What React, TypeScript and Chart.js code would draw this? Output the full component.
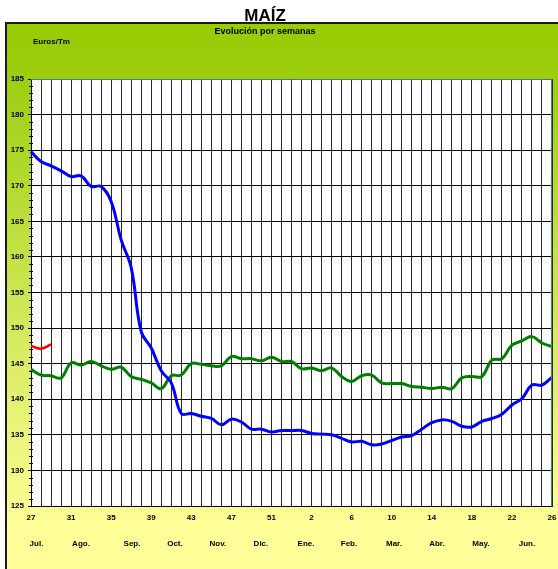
import { useEffect, useRef } from 'react';
import { Chart, registerables } from 'chart.js';

Chart.register(...registerables);

const weekLabels = [
  '27', '28', '29', '30', '31', '32', '33', '34', '35', '36', '37', '38', '39', '40', '41', '42', '43',
  '44', '45', '46', '47', '48', '49', '50', '51', '52', '53', '1', '2', '3', '4', '5', '6', '7', '8', '9',
  '10', '11', '12', '13', '14', '15', '16', '17', '18', '19', '20', '21', '22', '23', '24', '25', '26',
];

const blueSeries = [
  174.8, 173.4, 172.8, 172.1, 171.3, 171.4, 169.9, 169.9, 167.8, 162.4, 158.5, 149.5, 147.2, 144.0,
  142.3, 138.0, 138.0, 137.6, 137.3, 136.4, 137.2, 136.8, 135.8, 135.8, 135.4, 135.6, 135.6, 135.6,
  135.2, 135.1, 135.0, 134.5, 134.0, 134.1, 133.6, 133.7, 134.2, 134.7, 134.9, 135.8, 136.7, 137.1,
  136.9, 136.2, 136.1, 136.9, 137.3, 137.9, 139.2, 140.1, 142.0, 142.0, 143.1,
];

const greenSeries = [
  144.2, 143.4, 143.3, 143.0, 145.1, 144.8, 145.3, 144.7, 144.2, 144.5, 143.2, 142.8, 142.3, 141.5,
  143.3, 143.4, 145.0, 144.9, 144.7, 144.7, 146.0, 145.7, 145.7, 145.4, 145.9, 145.3, 145.3, 144.3,
  144.4, 144.0, 144.4, 143.2, 142.5, 143.3, 143.4, 142.3, 142.2, 142.2, 141.8, 141.7, 141.5, 141.7,
  141.5, 143.0, 143.2, 143.2, 145.5, 145.7, 147.6, 148.2, 148.8, 147.9, 147.4,
];

const redSeries = [147.5, 147.1, 147.7];

const yMin = 125;
const yMax = 185;
const yStep = 5;
const labelEvery = 4;

const monthLabels = ['Jul.', 'Ago.', 'Sep.', 'Oct.', 'Nov.', 'Dic.', 'Ene.', 'Feb.', 'Mar.', 'Abr.', 'May.', 'Jun.'];
const monthCenters = [0.55, 4.99, 10.08, 14.37, 18.66, 22.95, 27.45, 31.74, 36.23, 40.52, 44.91, 49.5];

const mainTitle = 'MAÍZ';
const subTitle = 'Evolución por semanas';
const unitLabel = 'Euros/Tm';

const FONT = '"Liberation Sans", Arial, Helvetica, sans-serif';

const decorPlugin = {
  id: 'decor',
  beforeDraw(chart: any) {
    const { ctx, width, height, chartArea } = chart;
    ctx.save();
    ctx.fillStyle = '#ffffff';
    ctx.fillRect(0, 0, width, height);
    const g = ctx.createLinearGradient(0, 22, 0, 530);
    g.addColorStop(0, '#99CC00');
    g.addColorStop(0.08, '#9ACD0C');
    g.addColorStop(1, '#FFFF99');
    ctx.fillStyle = g;
    ctx.fillRect(5, 22, width - 5, height - 22);
    ctx.strokeStyle = '#1a1a1a';
    ctx.lineWidth = 2;
    ctx.beginPath();
    ctx.moveTo(6, height);
    ctx.lineTo(6, 23);
    ctx.lineTo(width, 23);
    ctx.stroke();
    ctx.fillStyle = '#ffffff';
    ctx.fillRect(chartArea.left, chartArea.top, chartArea.right - chartArea.left, chartArea.bottom - chartArea.top);
    ctx.restore();
  },
  afterDraw(chart: any) {
    const { ctx, chartArea, scales } = chart;
    const x = scales.x;
    const y = scales.y;
    ctx.save();
    ctx.strokeStyle = '#3a8a70';
    ctx.lineWidth = 1;
    ctx.beginPath();
    ctx.moveTo(chartArea.left, Math.round(chartArea.top) + 0.5);
    ctx.lineTo(Math.round(chartArea.right) - 0.5, Math.round(chartArea.top) + 0.5);
    ctx.lineTo(Math.round(chartArea.right) - 0.5, chartArea.bottom);
    ctx.stroke();
    ctx.strokeStyle = '#000';
    ctx.beginPath();
    for (let v = yMin; v <= yMax; v++) {
      if (v % yStep === 0) continue;
      const py = Math.round(y.getPixelForValue(v)) + 0.5;
      ctx.moveTo(chartArea.left - 2, py);
      ctx.lineTo(chartArea.left + 2, py);
    }
    ctx.stroke();
    ctx.fillStyle = '#000';
    ctx.textAlign = 'center';
    ctx.textBaseline = 'alphabetic';
    ctx.font = `bold 17px ${FONT}`;
    ctx.fillText(mainTitle, 265, 21);
    ctx.font = `bold 9px ${FONT}`;
    ctx.fillText(subTitle, 265, 34);
    ctx.textAlign = 'left';
    ctx.font = `bold 8px ${FONT}`;
    ctx.fillText(unitLabel, 33, 44);
    ctx.textAlign = 'center';
    monthLabels.forEach((m, i) => {
      ctx.fillText(m, x.getPixelForValue(monthCenters[i]), 546);
    });
    ctx.restore();
  },
};

export default function App() {
  const ref = useRef<HTMLCanvasElement | null>(null);
  useEffect(() => {
    document.body.style.margin = '0';
    const canvas = ref.current;
    if (!canvas) return;
    const chart = new Chart(canvas, {
      type: 'line',
      data: {
        labels: weekLabels,
        datasets: [
          {
            label: 'blue',
            data: blueSeries,
            borderColor: '#0000FF',
            borderWidth: 3,
            pointRadius: 0,
            tension: 0.4,
            fill: false,
          },
          {
            label: 'green',
            data: greenSeries,
            borderColor: '#008000',
            borderWidth: 3,
            pointRadius: 0,
            tension: 0.4,
            fill: false,
          },
          {
            label: 'red',
            data: redSeries,
            borderColor: '#FF0000',
            borderWidth: 2.5,
            pointRadius: 0,
            tension: 0.4,
            fill: false,
          },
        ],
      },
      options: {
        responsive: false,
        animation: false,
        devicePixelRatio: 1,
        layout: { padding: { top: 79, right: 6, left: 0, bottom: 0 } },
        plugins: {
          legend: { display: false },
          tooltip: { enabled: false },
          title: { display: false },
        },
        scales: {
          x: {
            type: 'category',
            offset: false,
            grid: { color: '#2a2a2a', lineWidth: 1, drawTicks: false },
            border: { display: true, color: '#000', width: 1 },
            ticks: {
              autoSkip: false,
              maxRotation: 0,
              minRotation: 0,
              padding: 7,
              color: '#000',
              font: { family: FONT, size: 8, weight: 'bold' },
              callback: (_v: any, i: number) => (i % labelEvery === 0 ? weekLabels[i] : ''),
            },
            afterFit: (s: any) => {
              s.height = 63;
              s.paddingLeft = 0;
              s.paddingRight = 0;
            },
          },
          y: {
            min: yMin,
            max: yMax,
            grid: { color: '#000', lineWidth: 1, drawTicks: true, tickLength: 3 },
            border: { display: true, color: '#000', width: 1 },
            ticks: {
              stepSize: yStep,
              padding: 4,
              color: '#000',
              font: { family: FONT, size: 8, weight: 'bold' },
            },
            afterFit: (s: any) => {
              s.width = 31;
              s.paddingTop = 0;
              s.paddingBottom = 0;
            },
          },
        },
      },
      plugins: [decorPlugin],
    } as any);
    return () => chart.destroy();
  }, []);
  return (
    <div style={{ position: 'absolute', left: 0, top: 0, width: 558, height: 569 }}>
      <canvas ref={ref} width={558} height={569} style={{ display: 'block', width: 558, height: 569 }} />
    </div>
  );
}
